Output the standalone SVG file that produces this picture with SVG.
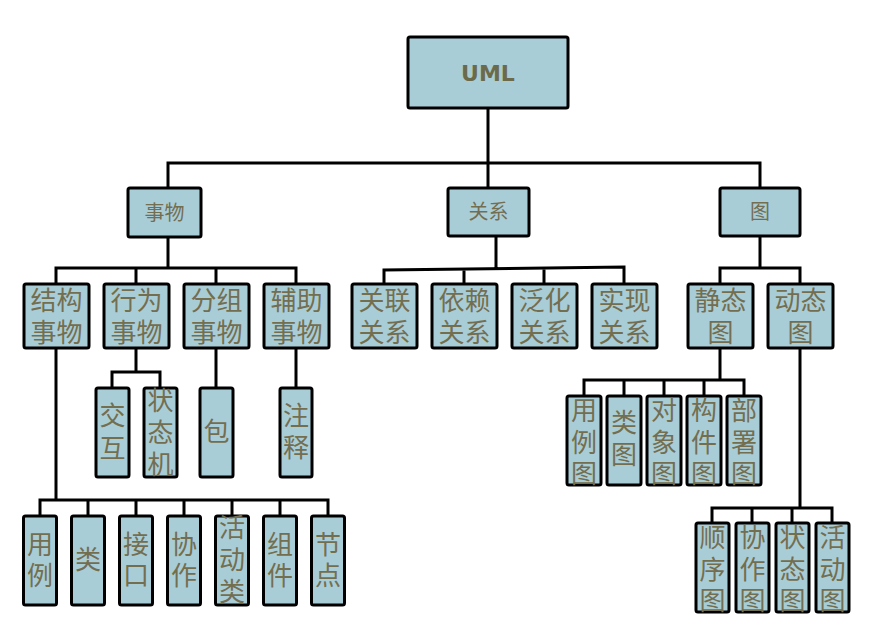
<svg xmlns="http://www.w3.org/2000/svg" width="890" height="642" viewBox="0 0 890 642">
<style>
.box{fill:#a9cdd7;stroke:#000;stroke-width:3}
.ln{fill:none;stroke:#000;stroke-width:3}
.t{font-family:"Liberation Sans","Noto Sans CJK SC",sans-serif;font-size:26px;fill:#736e50;text-anchor:middle;dominant-baseline:central}
.s{font-size:20px}
.u{font-family:"DejaVu Sans",sans-serif;font-weight:bold;font-size:22px;fill:#6b6a4a;text-anchor:middle;dominant-baseline:central}
</style>
<rect width="890" height="642" fill="#fff"/>
<g id="connectors">
<path class="ln" d="M488,108 V187 M168,188 V163 H760 V188"/>
<path class="ln" d="M168,237 V268 M56,284 V268 H296 V284 M136,268 V284 M216,268 V284"/>
<path class="ln" d="M496,236 V269 M384,284 V270 L624,267 V284 M464,269 V284 M544,268 V284"/>
<path class="ln" d="M760,236 V268 M720,284 V268 H800 V284"/>
<path class="ln" d="M136,348 V372 M112,388 V372 H160 V388 M216,348 V388 M296,348 V388"/>
<path class="ln" d="M56,348 V500 M40,516 V500 H328 V516 M88,500 V516 M136,500 V516 M184,500 V516 M232,500 V516 M280,500 V516"/>
<path class="ln" d="M720,348 V380 M584,396 V380 H744 V396 M624,380 V396 M664,380 V396 M704,380 V396"/>
<path class="ln" d="M800,348 V508 M712,523 V508 H832 V523 M752,508 V523 M792,508 V523"/>
</g>
<g id="uml"><rect class="box" x="408" y="37" width="160" height="71" rx="2"/><text class="u" x="488" y="73">UML</text></g>
<g id="things"><rect class="box" x="128" y="188" width="73" height="49" rx="2"/><text class="t s" x="164.5" y="213">事物</text></g>
<g id="relations"><rect class="box" x="448" y="188" width="81" height="48" rx="2"/><text class="t s" x="488.5" y="212">关系</text></g>
<g id="diagrams"><rect class="box" x="720" y="188" width="80" height="48" rx="2"/><text class="t s" x="760" y="212">图</text></g>

<g id="structural"><rect class="box" x="24" y="284" width="65" height="64" rx="2"/><text class="t" x="56.5" y="301">结构</text><text class="t" x="56.5" y="333">事物</text></g>
<g id="behavioral"><rect class="box" x="104" y="284" width="65" height="64" rx="2"/><text class="t" x="136.5" y="301">行为</text><text class="t" x="136.5" y="333">事物</text></g>
<g id="grouping"><rect class="box" x="184" y="284" width="65" height="64" rx="2"/><text class="t" x="216.5" y="301">分组</text><text class="t" x="216.5" y="333">事物</text></g>
<g id="annotational"><rect class="box" x="264" y="284" width="65" height="64" rx="2"/><text class="t" x="296.5" y="301">辅助</text><text class="t" x="296.5" y="333">事物</text></g>
<g id="association"><rect class="box" x="352" y="284" width="65" height="64" rx="2"/><text class="t" x="384.5" y="301">关联</text><text class="t" x="384.5" y="333">关系</text></g>
<g id="dependency"><rect class="box" x="432" y="284" width="65" height="64" rx="2"/><text class="t" x="464.5" y="301">依赖</text><text class="t" x="464.5" y="333">关系</text></g>
<g id="generalization"><rect class="box" x="512" y="284" width="65" height="64" rx="2"/><text class="t" x="544.5" y="301">泛化</text><text class="t" x="544.5" y="333">关系</text></g>
<g id="realization"><rect class="box" x="592" y="284" width="65" height="64" rx="2"/><text class="t" x="624.5" y="301">实现</text><text class="t" x="624.5" y="333">关系</text></g>
<g id="static"><rect class="box" x="688" y="284" width="65" height="64" rx="2"/><text class="t" x="720.5" y="301">静态</text><text class="t" x="720.5" y="333">图</text></g>
<g id="dynamic"><rect class="box" x="768" y="284" width="65" height="64" rx="2"/><text class="t" x="800.5" y="301">动态</text><text class="t" x="800.5" y="333">图</text></g>

<g id="interaction"><rect class="box" x="96" y="388" width="33" height="89" rx="2"/><text class="t" x="112.5" y="416">交</text><text class="t" x="112.5" y="449">互</text></g>
<g id="statemachine"><rect class="box" x="144" y="388" width="33" height="89" rx="2"/><text class="t" x="160.5" y="401">状</text><text class="t" x="160.5" y="433">态</text><text class="t" x="160.5" y="465">机</text></g>
<g id="package"><rect class="box" x="200" y="388" width="33" height="89" rx="2"/><text class="t" x="216.5" y="432">包</text></g>
<g id="note"><rect class="box" x="280" y="388" width="32" height="89" rx="2"/><text class="t" x="296" y="416">注</text><text class="t" x="296" y="448">释</text></g>

<g id="usecase"><rect class="box" x="23.5" y="516" width="33" height="89" rx="2"/><text class="t" x="40" y="545">用</text><text class="t" x="40" y="576">例</text></g>
<g id="class"><rect class="box" x="71.5" y="516" width="33" height="89" rx="2"/><text class="t" x="88" y="560">类</text></g>
<g id="interface"><rect class="box" x="119.5" y="516" width="33" height="89" rx="2"/><text class="t" x="136" y="545">接</text><text class="t" x="136" y="576">口</text></g>
<g id="collaboration"><rect class="box" x="167.5" y="516" width="33" height="89" rx="2"/><text class="t" x="184" y="545">协</text><text class="t" x="184" y="576">作</text></g>
<g id="activeclass"><rect class="box" x="215.5" y="516" width="33" height="89" rx="2"/><text class="t" x="232" y="528">活</text><text class="t" x="232" y="560">动</text><text class="t" x="232" y="592">类</text></g>
<g id="component"><rect class="box" x="263.5" y="516" width="33" height="89" rx="2"/><text class="t" x="280" y="545">组</text><text class="t" x="280" y="576">件</text></g>
<g id="node"><rect class="box" x="311.5" y="516" width="33" height="89" rx="2"/><text class="t" x="328" y="545">节</text><text class="t" x="328" y="576">点</text></g>

<g id="usecasediagram"><rect class="box" x="567" y="396" width="34" height="89" rx="2"/><text class="t" x="584" y="411">用</text><text class="t" x="584" y="442.5">例</text><text class="t" x="584" y="474">图</text></g>
<g id="classdiagram"><rect class="box" x="607" y="396" width="34" height="89" rx="2"/><text class="t" x="624" y="423">类</text><text class="t" x="624" y="455">图</text></g>
<g id="objectdiagram"><rect class="box" x="647" y="396" width="34" height="89" rx="2"/><text class="t" x="664" y="411">对</text><text class="t" x="664" y="442.5">象</text><text class="t" x="664" y="474">图</text></g>
<g id="componentdiagram"><rect class="box" x="687" y="396" width="34" height="89" rx="2"/><text class="t" x="704" y="411">构</text><text class="t" x="704" y="442.5">件</text><text class="t" x="704" y="474">图</text></g>
<g id="deploymentdiagram"><rect class="box" x="727" y="396" width="34" height="89" rx="2"/><text class="t" x="744" y="411">部</text><text class="t" x="744" y="442.5">署</text><text class="t" x="744" y="474">图</text></g>

<g id="sequencediagram"><rect class="box" x="696" y="523" width="33" height="89" rx="2"/><text class="t" x="712.5" y="538">顺</text><text class="t" x="712.5" y="569.5">序</text><text class="t" x="712.5" y="601">图</text></g>
<g id="collaborationdiagram"><rect class="box" x="736" y="523" width="33" height="89" rx="2"/><text class="t" x="752.5" y="538">协</text><text class="t" x="752.5" y="569.5">作</text><text class="t" x="752.5" y="601">图</text></g>
<g id="statechartdiagram"><rect class="box" x="776" y="523" width="33" height="89" rx="2"/><text class="t" x="792.5" y="538">状</text><text class="t" x="792.5" y="569.5">态</text><text class="t" x="792.5" y="601">图</text></g>
<g id="activitydiagram"><rect class="box" x="816" y="523" width="33" height="89" rx="2"/><text class="t" x="832.5" y="538">活</text><text class="t" x="832.5" y="569.5">动</text><text class="t" x="832.5" y="601">图</text></g>
</svg>
